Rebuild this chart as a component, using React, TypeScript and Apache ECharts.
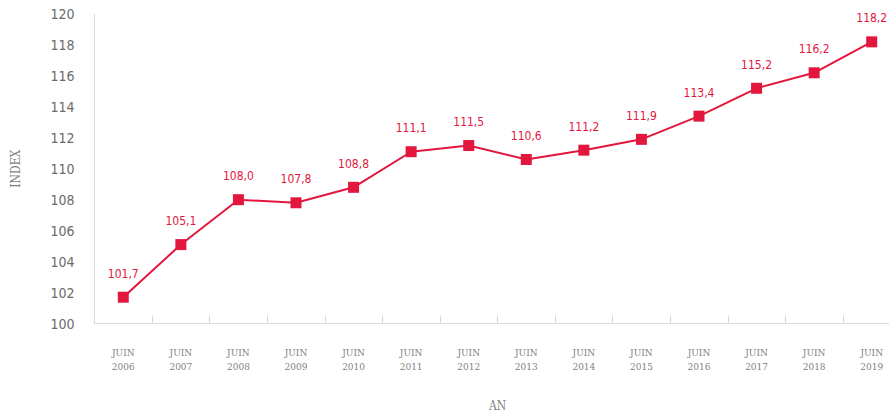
import React, { useEffect, useRef } from "react";
import * as echarts from "echarts";

const years = ["2006","2007","2008","2009","2010","2011","2012","2013","2014","2015","2016","2017","2018","2019"];
const categories = years.map((y) => "JUIN\n" + y);
const values = [101.7, 105.1, 108.0, 107.8, 108.8, 111.1, 111.5, 110.6, 111.2, 111.9, 113.4, 115.2, 116.2, 118.2];
const yTicks = [100, 102, 104, 106, 108, 110, 112, 114, 116, 118, 120];

const RED = "#e3173e";
const GRAY = "#7f7f7f";
const AXIS = "#d9d9d9";

export default function App() {
  const ref = useRef<HTMLDivElement>(null);
  useEffect(() => {
    document.body.style.margin = "0";
    document.body.style.overflow = "hidden";
    if (!ref.current) return;
    const chart = echarts.init(ref.current, undefined, { renderer: "svg" });
    chart.setOption({
      animation: false,
      grid: { left: 94.5, top: 14, width: 806, height: 309.5, containLabel: false, outerBoundsMode: "none" },
      xAxis: {
        type: "category",
        data: categories,
        boundaryGap: true,
        name: "AN",
        nameLocation: "middle",
        nameGap: 76,
        nameTextStyle: { color: GRAY, fontSize: 12, fontFamily: "DejaVu Serif Condensed" },
        axisLine: { lineStyle: { color: AXIS, width: 1 } },
        axisTick: { show: true, inside: true, length: 8, alignWithLabel: false, lineStyle: { color: AXIS } },
        axisLabel: {
          color: GRAY,
          fontSize: 10,
          fontFamily: "DejaVu Serif Condensed",
          margin: 22,
          lineHeight: 14,
          interval: 0,
        },
        splitLine: { show: false },
      },
      yAxis: {
        type: "value",
        min: yTicks[0],
        max: yTicks[yTicks.length - 1],
        interval: 2,
        name: "INDEX",
        nameLocation: "middle",
        nameRotate: 90,
        nameGap: 73,
        nameTextStyle: { color: GRAY, fontSize: 12, fontFamily: "DejaVu Serif Condensed" },
        axisLine: { show: true, lineStyle: { color: AXIS, width: 1 } },
        axisTick: { show: false },
        splitLine: { show: false },
        axisLabel: { color: "#6b6b6b", fontSize: 14, fontFamily: "DejaVu Sans Condensed", margin: 20 },
      },
      series: [
        {
          type: "line",
          data: values,
          symbol: "rect",
          symbolSize: 11,
          lineStyle: { color: RED, width: 2 },
          itemStyle: { color: RED },
          label: {
            show: true,
            position: "top",
            distance: 12,
            color: RED,
            fontSize: 12,
            fontFamily: "DejaVu Sans Condensed",
            formatter: (p: any) => p.value.toFixed(1).replace(".", ","),
          },
        },
      ],
    });
    return () => chart.dispose();
  }, []);
  return (
    <div style={{ width: 889, height: 414, position: "absolute", left: 0, top: 0, overflow: "hidden" }}>
      <div ref={ref} style={{ width: 889, height: 414 }} />
    </div>
  );
}
